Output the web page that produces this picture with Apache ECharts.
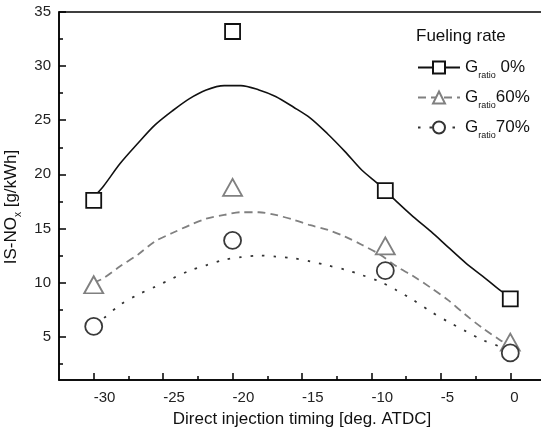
<!DOCTYPE html>
<html>
<head>
<meta charset="utf-8">
<script src="https://cdn.jsdelivr.net/npm/echarts@6/dist/echarts.min.js"></script>
<style>
  html, body { margin: 0; padding: 0; background: #fff; }
  #chart { width: 541px; height: 440px; }
</style>
</head>
<body>
<div id="chart"></div>
<script>
// measured points
const timing = [-30, -20, -9, 0];
const nox0 = [17.6, 33.2, 18.5, 8.5];
const nox60 = [9.8, 18.8, 13.4, 4.5];
const nox70 = [5.95, 13.9, 11.1, 3.5];

// fitted curves
const fitX = [-30, -29.3, -28.1, -26.8, -25.6, -24.3, -23.1, -21.9, -20.6, -19.4, -18.1, -16.9,
  -15.6, -14.4, -13.2, -11.9, -10.7, -9.4, -8.2, -7.0, -5.7, -4.5, -3.2, -2.0, -0.75, 0];
const fit0 = [17.9, 18.9, 21.0, 22.9, 24.55, 25.9, 27.0, 27.8, 28.2, 28.2, 27.8, 27.2,
  26.2, 25.2, 23.8, 22.1, 20.4, 19.0, 17.5, 16.1, 14.7, 13.3, 11.8, 10.6, 9.3, 8.7];
const fit60 = [10.0, 10.4, 11.5, 12.6, 13.8, 14.6, 15.3, 15.9, 16.25, 16.5, 16.5, 16.25,
  15.8, 15.3, 14.9, 14.25, 13.5, 12.6, 11.5, 10.6, 9.5, 8.4, 7.0, 5.8, 4.7, 4.1];
const fit70 = [6.3, 6.7, 7.95, 8.9, 9.6, 10.4, 11.1, 11.6, 12.1, 12.35, 12.5, 12.4,
  12.25, 11.95, 11.6, 11.2, 10.7, 10.1, 9.3, 8.4, 7.3, 6.4, 5.5, 4.7, 4.1, 3.9];

const xTicks = [-30, -25, -20, -15, -10, -5, 0];
const xMinor = [-27.5, -22.5, -17.5, -12.5, -7.5, -2.5];
const yTicks = [5, 10, 15, 20, 25, 30, 35];
const yMinor = [2.5, 7.5, 12.5, 17.5, 22.5, 27.5, 32.5];
const seriesNames = ['0%', '60%', '70%'];

const FONT = 'Liberation Sans';
const pair = (xs, ys) => xs.map((x, i) => [x, ys[i]]);

const chart = echarts.init(document.getElementById('chart'));

const lineOf = (name, ys, color, width, type, symbol) => ({
  name: name,
  type: 'line',
  data: pair(fitX, ys),
  smooth: 0.3,
  showSymbol: false,
  symbol: symbol,
  silent: true,
  z: 2,
  itemStyle: { color: color },
  lineStyle: { color: color, width: width, type: type }
});

const markersOf = (ys, symbol, size, color) => ({
  type: 'scatter',
  data: pair(timing, ys),
  symbol: symbol,
  symbolSize: size,
  z: 5,
  itemStyle: { color: '#fff', borderColor: color, borderWidth: 1.8, opacity: 1 }
});

const gridBox = { left: 59, top: 12, bottom: 60, right: -4, outerBoundsMode: 'none', containLabel: false };
const tickLine = { color: '#000', width: 1.5 };

chart.setOption({
  animation: false,
  textStyle: { fontFamily: FONT },
  grid: [
    Object.assign({ show: true, borderColor: '#000', borderWidth: 1.5, backgroundColor: 'transparent' }, gridBox),
    Object.assign({ show: false }, gridBox)
  ],
  xAxis: [
    {
      gridIndex: 0, type: 'value', min: -32.5, max: 2.5, position: 'bottom',
      name: 'Direct injection timing [deg. ATDC]',
      nameLocation: 'middle', nameGap: 31,
      nameTextStyle: { fontSize: 17, color: '#111', fontFamily: FONT },
      axisLine: { show: true, onZero: false, lineStyle: { color: '#000', width: 1.5 } },
      axisTick: { show: true, inside: true, length: 7, customValues: xTicks, lineStyle: tickLine },
      axisLabel: { customValues: xTicks, align: 'left', margin: 10, fontSize: 15, color: '#222', fontFamily: FONT },
      splitLine: { show: false }
    },
    {
      gridIndex: 1, type: 'value', min: -32.5, max: 2.5, position: 'bottom',
      axisLine: { show: false, onZero: false },
      axisTick: { show: true, inside: true, length: 4, customValues: xMinor, lineStyle: tickLine },
      axisLabel: { show: false },
      splitLine: { show: false }
    }
  ],
  yAxis: [
    {
      gridIndex: 0, type: 'value', min: 1, max: 35, position: 'left',
      name: '{a|IS-NO}{s|x}{a| [g/kWh]}',
      nameLocation: 'middle', nameGap: 30,
      nameTextStyle: {
        color: '#111', fontFamily: FONT, padding: [0, 22, 0, 0],
        rich: {
          a: { fontSize: 17, color: '#111', fontFamily: FONT, lineHeight: 24 },
          s: { fontSize: 10, color: '#111', fontFamily: FONT, lineHeight: 10, padding: [14, 0, 0, 0] }
        }
      },
      axisLine: { show: true, onZero: false, lineStyle: { color: '#000', width: 1.5 } },
      axisTick: { show: true, inside: true, length: 7, customValues: yTicks, lineStyle: tickLine },
      axisLabel: { customValues: yTicks, margin: 8, fontSize: 15, color: '#222', fontFamily: FONT },
      splitLine: { show: false }
    },
    {
      gridIndex: 1, type: 'value', min: 1, max: 35, position: 'left',
      axisLine: { show: false, onZero: false },
      axisTick: { show: true, inside: true, length: 4, customValues: yMinor, lineStyle: tickLine },
      axisLabel: { show: false },
      splitLine: { show: false }
    }
  ],
  graphic: [
    {
      type: 'text', left: 416, top: 28,
      style: { text: 'Fueling rate', font: '17px "Liberation Sans"', fill: '#111' }
    }
  ],
  legend: {
    orient: 'vertical', left: 417, top: 55,
    itemWidth: 42, itemHeight: 15, itemGap: 5, padding: 0,
    data: seriesNames,
    formatter: n => '{g|G}{s|ratio}{g|' + (n === '0%' ? ' 0%' : n) + '}',
    textStyle: {
      padding: [0, 0, 0, 0],
      rich: {
        g: { fontSize: 17, color: '#111', fontFamily: FONT, lineHeight: 28 },
        s: { fontSize: 9, color: '#111', fontFamily: FONT, lineHeight: 12, padding: [16, 0, 0, 0] }
      }
    }
  },
  series: [
    lineOf(seriesNames[0], fit0, '#111', 1.6, 'solid', 'emptyRect'),
    lineOf(seriesNames[1], fit60, '#808080', 1.8, [8, 5], 'emptyTriangle'),
    lineOf(seriesNames[2], fit70, '#333', 1.8, [2.5, 9], 'emptyCircle'),
    markersOf(nox0, 'rect', 15, '#111'),
    markersOf(nox60, 'triangle', [19, 17], '#808080'),
    markersOf(nox70, 'circle', 17, '#3a3a3a')
  ]
});
</script>
</body>
</html>
